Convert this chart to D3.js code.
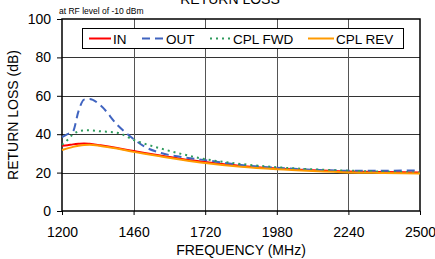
<!DOCTYPE html>
<html lang="en">
<head>
    <meta charset="UTF-8">
    <title>Return Loss</title>
    <script src="https://d3js.org/d3.v7.min.js"></script>
    <style>
        body { margin: 0; background: #fff; font-family: "Liberation Sans", Arial, sans-serif; }
    </style>
</head>
<body>
    <svg id="chart" width="435" height="259"></svg>
    <script>
        // Frequency points (MHz)
        var freq = [1200, 1220, 1240, 1260, 1280, 1300, 1340, 1400, 1460, 1500, 1560, 1640, 1720, 1850, 1980, 2110, 2240, 2370, 2500];

        var inVals     = [34, 34.3, 34.7, 35, 35.2, 35, 34.2, 32.8, 31.2, 30.2, 28.8, 27, 25.5, 23.5, 22.2, 21.2, 20.6, 20.3, 20];
        var outVals    = [38.5, 40, 41.5, 52, 58, 58.3, 55, 45, 37.5, 33.5, 30.2, 28, 26.5, 24, 22.5, 21.5, 21, 21, 21.2];
        var cplFwdVals = [34.5, 37, 40, 41.5, 42, 42, 41.5, 40.8, 37, 35, 32.5, 29.5, 27, 24.5, 22.8, 21.7, 21, 20.5, 20];
        var cplRevVals = [31.8, 32.6, 33.4, 34, 34.4, 34.5, 33.9, 32.5, 30.8, 29.8, 28.4, 26.6, 25, 23, 21.7, 20.8, 20.1, 19.8, 19.5];

        var seriesNames = ["IN", "OUT", "CPL FWD", "CPL REV"];
        var xTicks = [1200, 1460, 1720, 1980, 2240, 2500];
        var yTicks = [0, 20, 40, 60, 80, 100];

        var series = [
            { name: "IN", values: inVals, color: "#ff0000", dash: null, width: 2 },
            { name: "OUT", values: outVals, color: "#4064c0", dash: "8,5", width: 2 },
            { name: "CPL FWD", values: cplFwdVals, color: "#2e9a5c", dash: "2,4", width: 2 },
            { name: "CPL REV", values: cplRevVals, color: "#ff9a00", dash: null, width: 2 }
        ];

        var svg = d3.select("#chart");
        var margin = { left: 62, right: 15, top: 19, bottom: 48 };
        var width = 435, height = 259;

        var x = d3.scaleLinear().domain([1200, 2500]).range([margin.left, width - margin.right]);
        var y = d3.scaleLinear().domain([0, 100]).range([height - margin.bottom, margin.top]);

        // gridlines
        svg.append("g").selectAll("line.h")
            .data(yTicks.slice(1, -1))
            .enter().append("line")
            .attr("x1", x(1200)).attr("x2", x(2500))
            .attr("y1", function(d) { return Math.round(y(d)) + 0.5; })
            .attr("y2", function(d) { return Math.round(y(d)) + 0.5; })
            .attr("stroke", "#333").attr("stroke-width", 1);

        svg.append("g").selectAll("line.v")
            .data(xTicks.slice(1, -1))
            .enter().append("line")
            .attr("y1", y(0)).attr("y2", y(100))
            .attr("x1", function(d) { return Math.round(x(d)) + 0.5; })
            .attr("x2", function(d) { return Math.round(x(d)) + 0.5; })
            .attr("stroke", "#555").attr("stroke-width", 1);

        // axes
        var xAxis = svg.append("g")
            .attr("transform", "translate(0," + y(0) + ")")
            .call(d3.axisBottom(x).tickValues(xTicks).tickSize(4).tickPadding(12).tickFormat(d3.format("d")));
        var yAxis = svg.append("g")
            .attr("transform", "translate(" + x(1200) + ",0)")
            .call(d3.axisLeft(y).tickValues(yTicks).tickSize(5).tickPadding(6));

        [xAxis, yAxis].forEach(function(a) {
            a.select(".domain").remove();
            a.selectAll("line").attr("stroke", "#000");
            a.selectAll("text").attr("font-family", "Liberation Sans, Arial, sans-serif")
                .attr("font-size", 14).attr("fill", "#000");
        });

        // frame
        svg.append("rect")
            .attr("x", x(1200)).attr("y", y(100))
            .attr("width", x(2500) - x(1200)).attr("height", y(0) - y(100))
            .attr("fill", "none").attr("stroke", "#000").attr("stroke-width", 1.5);

        // lines
        var line = d3.line()
            .x(function(d) { return x(d[0]); })
            .y(function(d) { return y(d[1]); })
            .curve(d3.curveMonotoneX);

        series.forEach(function(s) {
            svg.append("path")
                .datum(freq.map(function(f, i) { return [f, s.values[i]]; }))
                .attr("fill", "none")
                .attr("stroke", s.color)
                .attr("stroke-width", s.width)
                .attr("stroke-dasharray", s.dash)
                .attr("d", line);
        });

        // legend
        var lg = svg.append("g");
        lg.append("rect")
            .attr("x", 82.5).attr("y", 28.5).attr("width", 321).attr("height", 20)
            .attr("fill", "#fff").attr("stroke", "#000").attr("stroke-width", 1);
        var legendPos = [
            { lx: 89, tx: 113 },
            { lx: 142, tx: 166 },
            { lx: 210, tx: 233 },
            { lx: 308, tx: 336 }
        ];
        series.forEach(function(s, i) {
            var p = legendPos[i];
            lg.append("line")
                .attr("x1", p.lx).attr("x2", p.tx - 2)
                .attr("y1", 38.5).attr("y2", 38.5)
                .attr("stroke", s.color).attr("stroke-width", 2)
                .attr("stroke-dasharray", s.dash);
            lg.append("text")
                .attr("x", p.tx).attr("y", 43.5)
                .attr("font-size", 13.5)
                .text(seriesNames[i]);
        });

        // titles
        svg.append("text")
            .attr("x", 230).attr("y", 4)
            .attr("text-anchor", "middle").attr("font-size", 14)
            .text("RETURN LOSS");
        svg.append("text")
            .attr("x", 59).attr("y", 14)
            .attr("font-size", 8.5)
            .text("at RF level of -10 dBm");
        svg.append("text")
            .attr("x", x(1850)).attr("y", 255)
            .attr("text-anchor", "middle").attr("font-size", 14)
            .text("FREQUENCY (MHz)");
        svg.append("text")
            .attr("transform", "translate(18," + y(50) + ") rotate(-90)")
            .attr("text-anchor", "middle").attr("font-size", 14)
            .text("RETURN LOSS (dB)");
    </script>
</body>
</html>
